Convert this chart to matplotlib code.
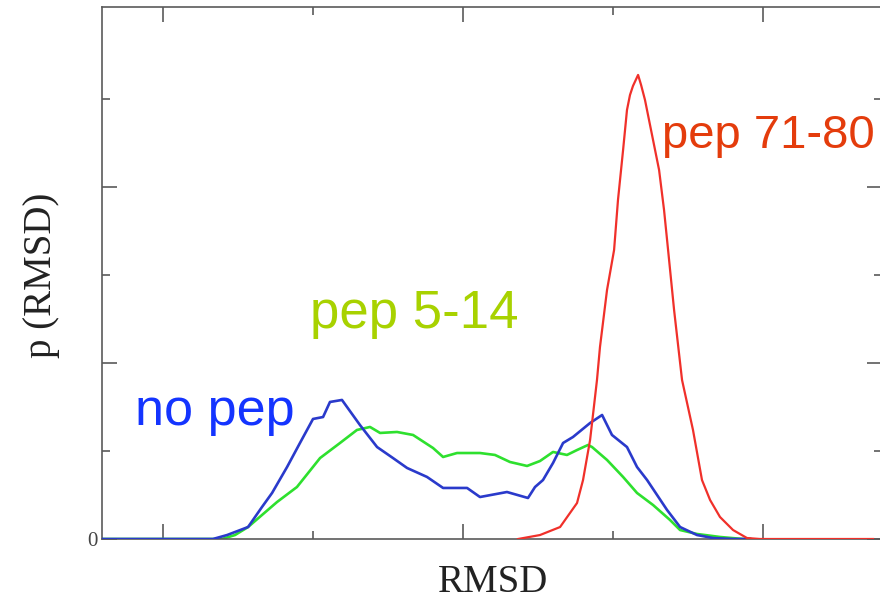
import matplotlib
matplotlib.use("Agg")
import matplotlib.pyplot as plt
from matplotlib.ticker import MultipleLocator, FixedLocator, FixedFormatter

# ---- data (RMSD in arbitrary units, probability density in arbitrary units) ----
nopep_x = [-0.407, 0.333, 0.427, 0.567, 0.66, 0.727, 0.827, 0.913, 1.0, 1.067, 1.113, 1.193,
           1.313, 1.427, 1.533, 1.627, 1.76, 1.867, 2.027, 2.113, 2.293, 2.433, 2.48, 2.533,
           2.6, 2.667, 2.733, 2.847, 2.927, 2.993, 3.093, 3.16, 3.227, 3.36, 3.447, 3.56,
           3.667, 3.8, 3.913]
nopep_y = [0, 0, 0.045, 0.136, 0.364, 0.523, 0.818, 1.091, 1.364, 1.386, 1.557, 1.58,
           1.295, 1.045, 0.92, 0.807, 0.705, 0.58, 0.58, 0.477, 0.534, 0.466, 0.591, 0.67,
           0.864, 1.091, 1.159, 1.318, 1.409, 1.182, 1.045, 0.818, 0.67, 0.33, 0.136, 0.045,
           0.011, 0, 0]

pep514_x = [-0.407, 0.393, 0.48, 0.567, 0.66, 0.76, 0.893, 1.047, 1.18, 1.293, 1.38, 1.447,
            1.56, 1.667, 1.8, 1.867, 1.96, 2.113, 2.213, 2.313, 2.427, 2.513, 2.6, 2.693,
            2.76, 2.833, 2.86, 2.96, 3.067, 3.16, 3.267, 3.38, 3.447, 3.56, 3.713, 3.867, 3.913]
pep514_y = [0, 0, 0.045, 0.136, 0.273, 0.42, 0.591, 0.92, 1.091, 1.239, 1.273, 1.205,
            1.216, 1.182, 1.034, 0.932, 0.977, 0.977, 0.955, 0.875, 0.83, 0.886, 0.989, 0.955,
            1.011, 1.068, 1.045, 0.898, 0.705, 0.523, 0.386, 0.216, 0.102, 0.057, 0.023, 0, 0]

pep7180_x = [2.367, 2.513, 2.647, 2.76, 2.8, 2.847, 2.893, 2.913, 2.96, 3.007, 3.033, 3.067,
             3.093, 3.113, 3.133, 3.167, 3.187, 3.213, 3.26, 3.307, 3.34, 3.367, 3.407, 3.46,
             3.533, 3.593, 3.647, 3.713, 3.8, 3.893, 3.98, 4.733]
pep7180_y = [0, 0.045, 0.136, 0.409, 0.67, 1.125, 1.807, 2.182, 2.83, 3.284, 3.852, 4.42,
             4.875, 5.045, 5.148, 5.273, 5.159, 4.989, 4.591, 4.193, 3.739, 3.284, 2.602, 1.807,
             1.239, 0.67, 0.443, 0.25, 0.102, 0.011, 0, 0]

series_labels = ["no pep", "pep 5-14", "pep 71-80"]
label_pos = [(-0.187, 1.295), (0.98, 2.398), (3.327, 4.443)]

# ---- figure ----
W, H = 880, 600
fig = plt.figure(figsize=(W / 100, H / 100), dpi=100)
ax = fig.add_axes([102 / W, (600 - 539) / H, (882 - 102) / W, (539 - 7) / H])

line_blue = "#2a3acb"
line_green = "#2ee02e"
line_red = "#f0302a"

ax.plot(pep514_x, pep514_y, color=line_green, lw=1.9, zorder=2)
ax.plot(nopep_x, nopep_y, color=line_blue, lw=1.9, zorder=3)
ax.plot(pep7180_x, pep7180_y, color=line_red, lw=1.6, zorder=4)

ax.set_xlim(-0.4067, 4.793)
ax.set_ylim(0, 6.045)

ax.xaxis.set_major_locator(MultipleLocator(2))
ax.xaxis.set_minor_locator(MultipleLocator(1))
ax.yaxis.set_major_locator(FixedLocator([0, 2, 4]))
ax.yaxis.set_minor_locator(FixedLocator([1, 3, 5]))
ax.yaxis.set_major_formatter(FixedFormatter(["0", "", ""]))
ax.xaxis.set_major_formatter(FixedFormatter([]))
ax.tick_params(axis="x", labelbottom=False)

spine_c = "#5a5a5a"
for s in ax.spines.values():
    s.set_color(spine_c)
    s.set_linewidth(1.2)
ax.tick_params(which="both", direction="in", top=True, right=True, color=spine_c, width=1.2)
ax.tick_params(which="major", length=11)
ax.tick_params(which="minor", length=6)
ax.tick_params(axis="y", which="major", pad=3, labelsize=15, labelcolor="#444444")
for t in ax.get_yticklabels():
    t.set_fontfamily("Liberation Serif")

text_colors = ["#1434ff", "#a8d200", "#e43c0c"]
text_sizes = [37.5, 38, 34]
for lab, (tx, ty), c, fs in zip(series_labels, label_pos, text_colors, text_sizes):
    ax.text(tx, ty, lab, color=c, fontsize=fs, family="Liberation Sans",
            ha="left", va="baseline", zorder=5)

fig.text(493 / W, 1 - 583 / H, "RMSD", family="Liberation Serif", fontsize=28,
         ha="center", va="center", color="#222222")
fig.text(42 / W, 1 - 275 / H, "p (RMSD)", family="Liberation Serif", fontsize=28,
         rotation=90, ha="center", va="center", color="#222222")

fig.savefig("out.png", dpi=100)
